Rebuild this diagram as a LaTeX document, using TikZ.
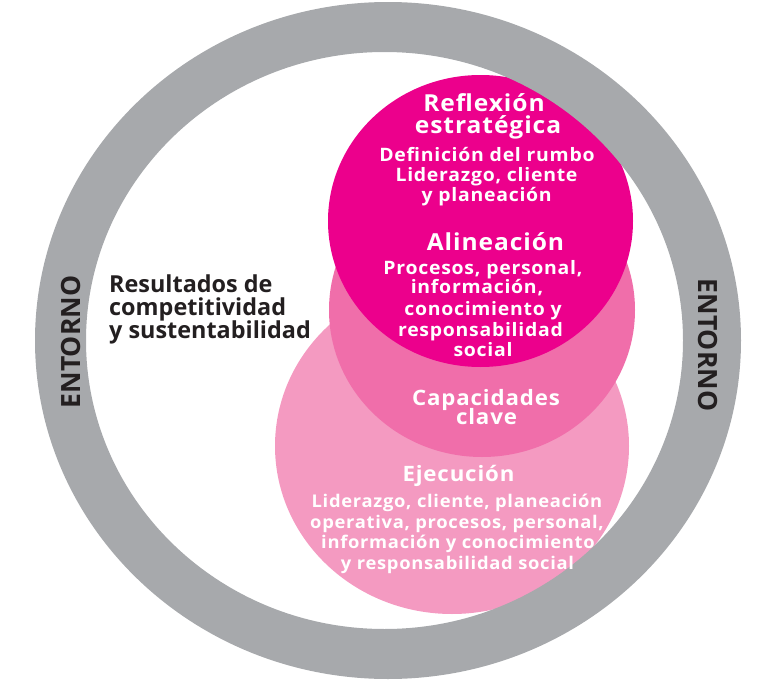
\documentclass[tikz,border=0pt]{standalone}
\usepackage{fontspec}
\setmainfont{Open Sans}
\newfontfamily\tracked{Open Sans}[FakeStretch=1.05, LetterSpace=4]
\definecolor{ringgray}{HTML}{A7A9AC}
\definecolor{magentaA}{HTML}{EC008C}
\definecolor{pinkB}{HTML}{F06EAA}
\definecolor{pinkC}{HTML}{F49AC1}
\definecolor{darktext}{HTML}{231F20}
\tikzset{
  ttl/.style={anchor=base, inner sep=0pt, text=white, font=\tracked\fontsize{23.4}{23.4}\selectfont\bfseries},
  sub/.style={anchor=base, inner sep=0pt, text=white, font=\tracked\fontsize{18.5}{18.5}\selectfont\bfseries},
  ttlb/.style={anchor=base, inner sep=0pt, text=white, font=\tracked\fontsize{21.2}{21.2}\selectfont\bfseries},
  subb/.style={anchor=base, inner sep=0pt, text=white, font=\tracked\fontsize{17.5}{17.5}\selectfont\bfseries},
  lefttxt/.style={anchor=base west, inner sep=0pt, text=darktext, font=\fontsize{23.4}{23.4}\selectfont\bfseries},
  entorno/.style={inner sep=0pt, text=darktext, font=\fontsize{26.5}{26.5}\selectfont\bfseries}
}
\begin{document}
\begin{tikzpicture}[x=1pt,y=-1pt]
\useasboundingbox (0,0) rectangle (764,696);
% circles
\fill[pinkC] (452,446) ellipse [x radius=177, y radius=168];
\fill[pinkB] (482,310) ellipse [x radius=153, y radius=147];
\fill[magentaA] (480.5,221) ellipse [x radius=152.5, y radius=146];
% ring
\fill[ringgray, even odd rule] (388,340.5) ellipse [x radius=353, y radius=338.5]
  (384.5,340.5) ellipse [x radius=298.5, y radius=288.5];
% Reflexion
\node[ttl] (r1) at (484,111.7) {Reflexión};
\node[ttl] (r2) at (488,133.3) {estratégica};
\node[sub] (r3) at (487,161.7) {Definición del rumbo};
\node[sub] (r4) at (486.5,181.7) {Liderazgo, cliente};
\node[sub] (r5) at (486.7,201.7) {y planeación};
% Alineacion
\node[ttl] (a1) at (495.5,250) {Alineación};
\node[sub] (a2) at (483,274.3) {Procesos, personal,};
\node[sub] (a3) at (477,293.8) {información,};
\node[sub] (a4) at (483,315.5) {conocimiento y};
\node[sub] (a5) at (480.5,336.5) {responsabilidad};
\node[sub] (a6) at (483,356.7) {social};
% Capacidades
\node[ttlb] (c1) at (486,405) {Capacidades};
\node[ttlb] (c2) at (486.5,424.5) {clave};
% Ejecucion
\node[ttlb] (e1) at (458.5,481.7) {Ejecución};
\node[subb] (e2) at (457,507.7) {Liderazgo, cliente, planeación};
\node[subb] (e3) at (457,528.3) {operativa, procesos, personal,};
\node[subb] (e4) at (458,548.3) {información y conocimiento};
\node[subb] (e5) at (457.5,569) {y responsabilidad social};
% left text
\node[lefttxt] (t1) at (109,292) {Resultados de};
\node[lefttxt] (t2) at (109,315) {competitividad};
\node[lefttxt] (t3) at (109,338) {y sustentabilidad};
% entorno
\node[entorno, rotate=90] (en1) at (71,342) {ENTORNO};
\node[entorno, rotate=-90] (en2) at (708,345) {ENTORNO};
\end{tikzpicture}
\end{document}
